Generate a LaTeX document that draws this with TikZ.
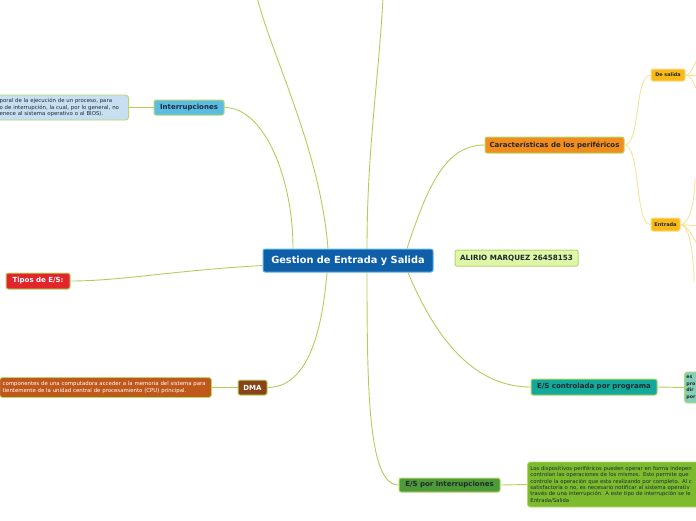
\documentclass[tikz,border=0pt]{standalone}
\usepackage{fontspec}
\setmainfont{DejaVu Sans}

\definecolor{linkgreen}{HTML}{B2CE5A}
\definecolor{linkyellow}{HTML}{F3E49A}
\definecolor{rimgreen}{HTML}{B4D86A}
\definecolor{inkdark}{HTML}{1E2A2E}
\definecolor{centralblue}{HTML}{0E5FA8}
\definecolor{centralrim}{HTML}{5AB4EC}
\definecolor{skyblue}{HTML}{5BBDE6}
\definecolor{paleblue}{HTML}{C6E0F2}
\definecolor{alarmred}{HTML}{E2252B}
\definecolor{dmabrown}{HTML}{8A4216}
\definecolor{rustorange}{HTML}{C0581C}
\definecolor{periforange}{HTML}{F28C1C}
\definecolor{amber}{HTML}{FBB917}
\definecolor{amberrim}{HTML}{F8DC84}
\definecolor{tealprog}{HTML}{12A89A}
\definecolor{tealpale}{HTML}{84D0B6}
\definecolor{grassgreen}{HTML}{4E9A38}
\definecolor{limegreen}{HTML}{7CBB2E}
\definecolor{palelime}{HTML}{E0F7A8}

\begin{document}
\begin{tikzpicture}[x=1pt,y=-1pt]
        % Map style definitions
        \tikzset{
            link/.style={draw=linkgreen, line width=0.9pt},
            sublink/.style={draw=linkyellow, line width=0.9pt},
            topic/.style={rounded corners=2pt, line width=1pt, draw=rimgreen, inner sep=0pt,
                text=inkdark, font=\fontsize{7}{8}\selectfont\bfseries},
            note/.style={rounded corners=3pt, line width=0.8pt, draw=rimgreen, inner xsep=3pt,
                inner ysep=2pt, align=left, text=inkdark, font=\fontsize{5.4}{6.2}\selectfont}
        }

        \useasboundingbox (0,0) rectangle (696,520);

        % ==========================================
        % CENTRAL TOPIC
        % ==========================================
        \node[topic, fill=centralblue, draw=centralrim, text=white, minimum width=170pt,
            minimum height=23pt, font=\fontsize{9.8}{11}\selectfont\bfseries]
            (central) at (348,260.5) {Gestion de Entrada y Salida};
        \node[topic, fill=palelime, minimum width=123pt, minimum height=16pt,
            font=\fontsize{7.2}{8}\selectfont\bfseries]
            (alirio) at (516.5,258) {ALIRIO MARQUEZ 26458153};

        % ==========================================
        % LEFT BRANCHES
        % ==========================================
        \node[topic, fill=skyblue, minimum width=70pt, minimum height=15pt]
            (interr) at (189,107.5) {Interrupciones};
        \node[note, fill=paleblue, anchor=east, text width=126pt, minimum height=25pt]
            (interrtxt) at (129,107.5)
            {poral de la ejecución de un proceso, para\\
             o de interrupción, la cual, por lo general, no\\
             enece al sistema operativo o al BIOS).};

        \node[topic, fill=alarmred, text=white, minimum width=64pt, minimum height=16pt]
            (tipos) at (38,281) {Tipos de E/S:};

        \node[topic, fill=dmabrown, text=white, minimum width=29pt, minimum height=15pt]
            (dma) at (252.5,387.5) {DMA};
        \node[note, fill=rustorange, text=white, anchor=east, text width=206pt,
            minimum height=20pt, font=\fontsize{5.4}{7}\selectfont]
            (dmatxt) at (212,387.5)
            {componentes de una computadora acceder a la memoria del sistema para\\
             tientemente de la unidad central de procesamiento (CPU) principal.};

        % ==========================================
        % RIGHT BRANCHES
        % ==========================================
        \node[topic, fill=periforange, minimum width=139pt, minimum height=16pt]
            (caract) at (554.5,145) {Características de los periféricos};
        \node[topic, fill=amber, draw=amberrim, minimum width=34pt, minimum height=12pt,
            font=\fontsize{4.9}{6}\selectfont\bfseries]
            (salida) at (668,75) {De salida};
        \node[topic, fill=amber, draw=amberrim, minimum width=29pt, minimum height=13pt,
            font=\fontsize{5}{6}\selectfont\bfseries]
            (entrada) at (665.5,224.5) {Entrada};

        \node[topic, fill=tealprog, minimum width=126pt, minimum height=16pt]
            (esprog) at (594,387) {E/S controlada por programa};
        \node[note, fill=tealpale, anchor=west, inner xsep=2pt, text width=30pt, minimum height=31pt,
            font=\fontsize{4.7}{6.6}\selectfont\bfseries]
            (esprogtxt) at (684,387.5) {es\\ pro\\ dir\\ por};

        \node[topic, fill=grassgreen, minimum width=101pt, minimum height=14pt]
            (esint) at (449.5,485) {E/S por Interrupciones};
        \node[note, fill=limegreen, anchor=west, text width=200pt, minimum height=45pt,
            font=\fontsize{5.3}{6.4}\selectfont]
            (esinttxt) at (527,484.5)
            {Los dispositivos periféricos pueden operar en forma indepen\\
             controlan las operaciones de los mismos. Esto permite que\\
             controle la operación que esta realizando por completo. Al c\\
             satisfactoria o no, es necesario notificar al sistema operativ\\
             través de una interrupción. A este tipo de interrupción se le\\
             Entrada/Salida};

        % Free ends of the branches that leave the page
        \coordinate (topA) at (257,-3);
        \coordinate (topB) at (383,-3);
        \coordinate (salA) at (699,56);
        \coordinate (salB) at (699,76);
        \coordinate (salC) at (699,93);
        \coordinate (entA) at (695,178);
        \coordinate (entB) at (699,226);
        \coordinate (entC) at (699,246);
        \coordinate (entD) at (694,282);

        % ==========================================
        % CONNECTORS
        % ==========================================
        \draw[link] ([xshift=-55pt]central.north) .. controls +(0,-70) and +(40,0) .. (interr.east);
        \draw[link] ([xshift=-20pt]central.north) .. controls +(-8,-100) and +(15,60) .. (topA);
        \draw[link] ([xshift=19pt]central.north) .. controls +(0,-100) and +(-4,80) .. (topB);
        \draw[link] ([xshift=59pt]central.north) .. controls +(20,-60) and +(-40,0) .. (caract.west);
        \draw[link] ([yshift=-5pt]central.west) .. controls +(-90,5) and +(50,0) .. (tipos.east);
        \draw[link] ([xshift=-21pt]central.south) .. controls +(-5,60) and +(40,0) .. (dma.east);
        \draw[link] ([xshift=19pt]central.south) .. controls +(0,120) and +(-30,0) .. (esint.west);
        \draw[link] ([xshift=60pt]central.south) .. controls +(25,60) and +(-60,0) .. (esprog.west);

        % Branch to note
        \draw[link] (interr.west) -- (interrtxt.east);
        \draw[link] (dma.west) -- (dmatxt.east);
        \draw[link] (esprog.east) -- (esprogtxt.west);
        \draw[link] (esint.east) -- (esinttxt.west);

        % Peripheral sub-branches
        \draw[sublink] (caract.east) .. controls +(16,0) and +(-16,0) .. (salida.west);
        \draw[sublink] (caract.east) .. controls +(16,0) and +(-16,0) .. (entrada.west);
        \draw[sublink] (salida.east) .. controls +(6,0) and +(-4,6) .. (salA);
        \draw[sublink] (salida.east) -- (salB);
        \draw[sublink] (salida.east) .. controls +(6,0) and +(-4,-6) .. (salC);
        \draw[sublink] (entrada.east) .. controls +(10,0) and +(0,20) .. (entA);
        \draw[sublink] (entrada.east) -- (entB);
        \draw[sublink] (entrada.east) .. controls +(8,0) and +(-6,-6) .. (entC);
        \draw[sublink] (entrada.east) .. controls +(10,0) and +(0,-20) .. (entD);
\end{tikzpicture}
\end{document}
